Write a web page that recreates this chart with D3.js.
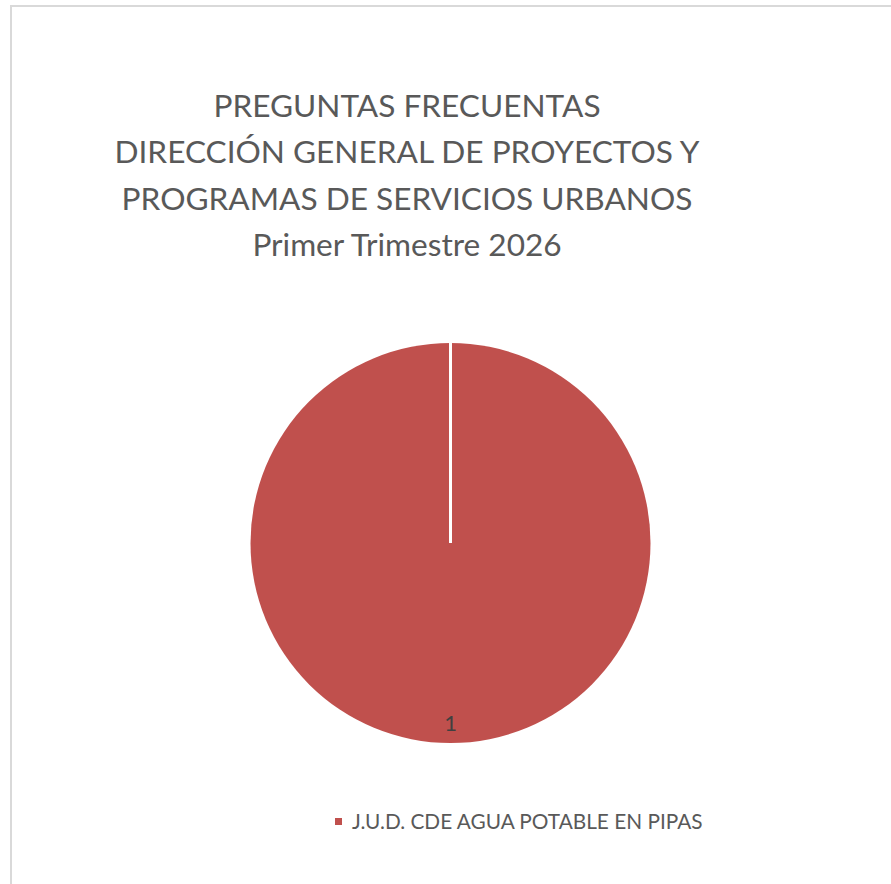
<!DOCTYPE html>
<html>
<head>
<meta charset="utf-8">
<script src="https://cdn.jsdelivr.net/npm/d3@7"></script>
<style>
  body { margin: 0; background: #fff; }
  svg { display: block; }
</style>
</head>
<body>
<svg id="chart" width="891" height="884"></svg>
<script>
var titleLines = [
  "PREGUNTAS FRECUENTAS",
  "DIRECCIÓN GENERAL DE PROYECTOS Y",
  "PROGRAMAS DE SERVICIOS URBANOS",
  "Primer Trimestre 2026"
];
var categories = ["J.U.D. CDE AGUA POTABLE EN PIPAS"];
var values = [1];
var colors = ["#c0504d"];

var svg = d3.select("#chart");
var fontFamily = "Lato, 'Open Sans', sans-serif";

// chart frame
svg.append("rect")
  .attr("x", 11)
  .attr("y", 6)
  .attr("width", 900)
  .attr("height", 900)
  .attr("fill", "#fff")
  .attr("stroke", "#d9d9d9")
  .attr("stroke-width", 2);

// title
var title = svg.append("g").attr("transform", "translate(407,0)");
title.selectAll("text")
  .data(titleLines)
  .enter()
  .append("text")
  .attr("x", 0)
  .attr("y", function (d, i) { return 117 + i * 46.3; })
  .attr("text-anchor", "middle")
  .attr("font-family", fontFamily)
  .attr("font-size", 31.6)
  .attr("fill", "#595959")
  .text(function (d) { return d; });

// pie
var cx = 450.5, cy = 543, radius = 200;
var pie = d3.pie().sort(null);
var arcs = pie(values);
var arc = d3.arc().innerRadius(0).outerRadius(radius);
var labelArc = d3.arc().innerRadius(radius * 0.9).outerRadius(radius * 0.9);

var g = svg.append("g").attr("transform", "translate(" + cx + "," + cy + ")");

g.selectAll("path")
  .data(arcs)
  .enter()
  .append("path")
  .attr("d", arc)
  .attr("fill", function (d, i) { return colors[i]; });

// slice borders (white radial edges)
g.selectAll("line.edge")
  .data(arcs)
  .enter()
  .append("line")
  .attr("class", "edge")
  .attr("x1", 0)
  .attr("y1", 0)
  .attr("x2", function (d) { return radius * Math.sin(d.startAngle); })
  .attr("y2", function (d) { return -radius * Math.cos(d.startAngle); })
  .attr("stroke", "#fff")
  .attr("stroke-width", 3);

// data labels
g.selectAll("text.lbl")
  .data(arcs)
  .enter()
  .append("text")
  .attr("class", "lbl")
  .attr("transform", function (d) {
    return "translate(" + labelArc.centroid(d) + ")";
  })
  .attr("text-anchor", "middle")
  .attr("dy", "0.35em")
  .attr("font-family", fontFamily)
  .attr("font-size", 22)
  .attr("fill", "#404040")
  .text(function (d) { return d.data; });

// legend
var legend = svg.append("g").attr("transform", "translate(335,818)");
var item = legend.selectAll("g")
  .data(categories)
  .enter()
  .append("g");
item.append("rect")
  .attr("width", 7)
  .attr("height", 7)
  .attr("fill", function (d, i) { return colors[i]; });
item.append("text")
  .attr("x", 17)
  .attr("y", 11)
  .attr("font-family", fontFamily)
  .attr("font-size", 20.8)
  .attr("fill", "#595959")
  .text(function (d) { return d; });
</script>
</body>
</html>
